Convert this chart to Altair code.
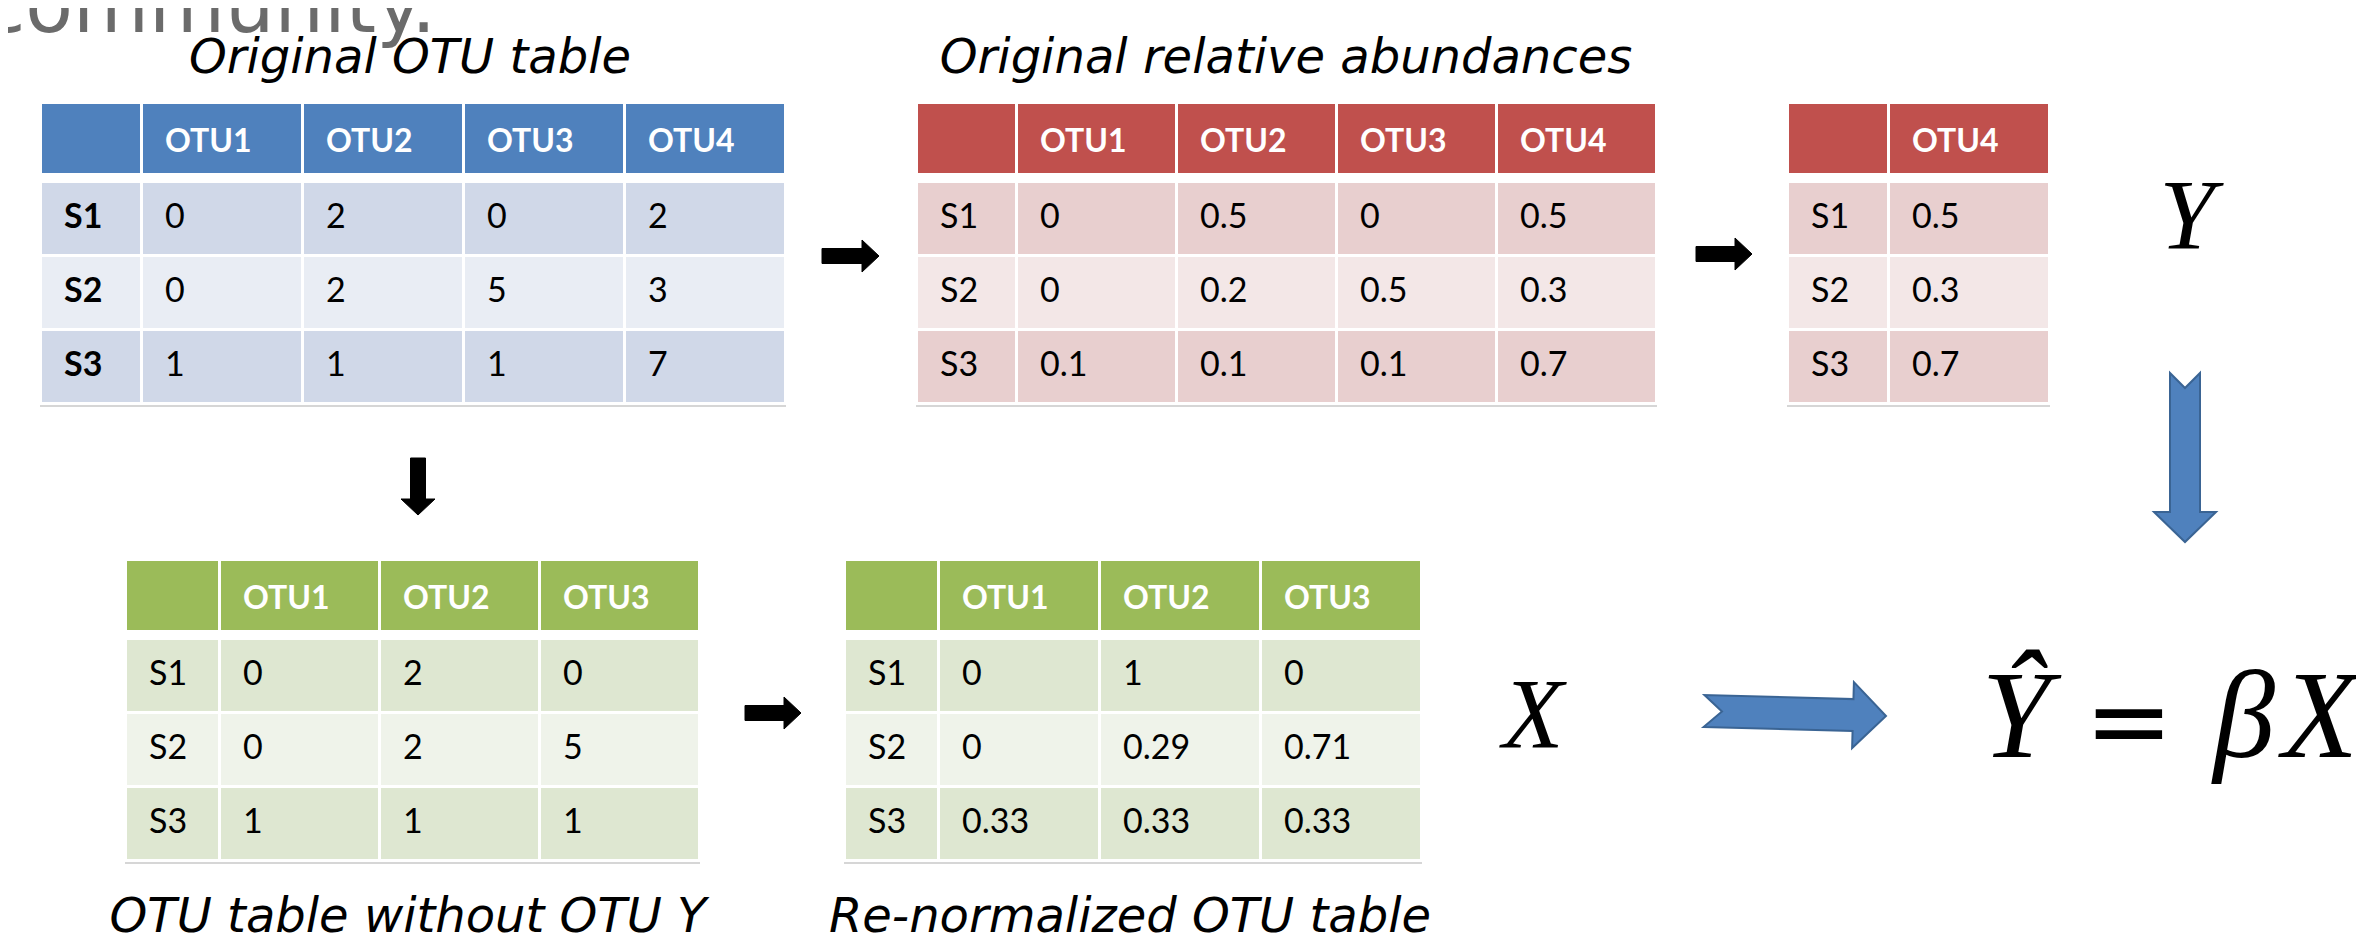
import math
import altair as alt
import pandas as pd

# ------------------------------------------------------------------ data
samples = ["S1", "S2", "S3"]
otu_all = ["OTU1", "OTU2", "OTU3", "OTU4"]
otu_y = ["OTU4"]
otu_x = ["OTU1", "OTU2", "OTU3"]

counts = [["0", "2", "0", "2"], ["0", "2", "5", "3"], ["1", "1", "1", "7"]]
rel_abund = [["0", "0.5", "0", "0.5"], ["0", "0.2", "0.5", "0.3"], ["0.1", "0.1", "0.1", "0.7"]]
y_abund = [["0.5"], ["0.3"], ["0.7"]]
x_counts = [["0", "2", "0"], ["0", "2", "5"], ["1", "1", "1"]]
x_renorm = [["0", "1", "0"], ["0", "0.29", "0.71"], ["0.33", "0.33", "0.33"]]

table_titles = ["Original OTU table", "Original relative abundances",
                "OTU table without OTU Y", "Re-normalized OTU table"]
heading_text = "community."
symbol_y = "Y"
symbol_x = "X"
equation_parts = ["Ŷ", "=", "β", "X"]

# ------------------------------------------------------------------ layout / style
W, H, OFF = 2348, 931, 8
BLUE = {"head": "#4F81BD", "band1": "#D0D8E8", "band2": "#E9EDF4"}
RED = {"head": "#C0504D", "band1": "#E8CFCF", "band2": "#F3E7E7"}
GREEN = {"head": "#9BBB59", "band1": "#DEE7D1", "band2": "#EFF3EA"}

tables = [
    dict(cols=otu_all, vals=counts, theme=BLUE, left=42, top=104, label_w=98, col_w=158, bold_labels=True),
    dict(cols=otu_all, vals=rel_abund, theme=RED, left=918, top=104, label_w=97, col_w=157, bold_labels=False),
    dict(cols=otu_y, vals=y_abund, theme=RED, left=1789, top=104, label_w=98, col_w=158, bold_labels=False),
    dict(cols=otu_x, vals=x_counts, theme=GREEN, left=127, top=561, label_w=91, col_w=157, bold_labels=False),
    dict(cols=otu_x, vals=x_renorm, theme=GREEN, left=846, top=561, label_w=91, col_w=158, bold_labels=False),
]
GAP, HEAD_H, HEAD_GAP, ROW_H, ROW_GAP, PAD = 3, 69, 10, 71, 3, 22

title_pos = [(410, 73), (1286, 73), (408, 932), (1130, 932)]

cells, rules, txt_reg, txt_bold, txt_head = [], [], [], [], []
for t in tables:
    ncol = len(t["cols"])
    lefts = [t["left"]] + [t["left"] + t["label_w"] + GAP + i * (t["col_w"] + GAP) for i in range(ncol)]
    widths = [t["label_w"]] + [t["col_w"]] * ncol
    right = lefts[-1] + widths[-1]
    top = t["top"]
    for j in range(ncol + 1):
        cells.append(dict(x=lefts[j], x2=lefts[j] + widths[j], y=top, y2=top + HEAD_H, fill=t["theme"]["head"]))
        if j > 0:
            txt_head.append(dict(x=lefts[j] + PAD, y=top + 48, text=t["cols"][j - 1]))
    for r, s in enumerate(samples):
        ry = top + HEAD_H + HEAD_GAP + r * (ROW_H + ROW_GAP)
        band = t["theme"]["band1"] if r % 2 == 0 else t["theme"]["band2"]
        for j in range(ncol + 1):
            cells.append(dict(x=lefts[j], x2=lefts[j] + widths[j], y=ry, y2=ry + ROW_H, fill=band))
        lab = dict(x=lefts[0] + PAD, y=ry + 45, text=s)
        (txt_bold if t["bold_labels"] else txt_reg).append(lab)
        for j in range(ncol):
            txt_reg.append(dict(x=lefts[j + 1] + PAD, y=ry + 45, text=t["vals"][r][j]))
    bottom = top + HEAD_H + HEAD_GAP + 3 * ROW_H + 2 * ROW_GAP
    rules.append(dict(x=t["left"] - 2, x2=right + 2, y=bottom + 4))

titles_df = pd.DataFrame([dict(x=p[0], y=p[1], text=s) for s, p in zip(table_titles, title_pos)])

sym_df = pd.DataFrame([
    dict(x=2187, y=248, text=symbol_y, fs=100),
    dict(x=1533, y=747, text=symbol_x, fs=100),
    dict(x=2016, y=757, text=equation_parts[0], fs=124),
    dict(x=2244, y=757, text=equation_parts[2], fs=124),
    dict(x=2320, y=757, text=equation_parts[3], fs=124),
])
eq_df = pd.DataFrame([dict(x=2129, y=757, text=equation_parts[1])])
head_df = pd.DataFrame([dict(x=436, y=32, text=heading_text)])


def arrow(name, tail, tip, sh, hh, hl, notch=0.0):
    dx, dy = tip[0] - tail[0], tip[1] - tail[1]
    L = math.hypot(dx, dy)
    ux, uy = dx / L, dy / L
    nx, ny = -uy, ux
    bx, by = tip[0] - hl * ux, tip[1] - hl * uy
    pts = [
        (tail[0] + nx * sh, tail[1] + ny * sh),
        (bx + nx * sh, by + ny * sh),
        (bx + nx * hh, by + ny * hh),
        tip,
        (bx - nx * hh, by - ny * hh),
        (bx - nx * sh, by - ny * sh),
        (tail[0] - nx * sh, tail[1] - ny * sh),
        (tail[0] + ux * notch, tail[1] + uy * notch),
    ]
    return [dict(id=name, i=k, x=p[0], y=p[1]) for k, p in enumerate(pts)]


black_arrows = pd.DataFrame(
    arrow("a1", (822, 256), (879, 256), 7.5, 16, 17)
    + arrow("a2", (1696, 254), (1752, 254), 7.5, 16, 17)
    + arrow("a3", (745, 713), (801, 713), 7.5, 16, 17)
    + arrow("a4", (418, 458), (418, 515), 7.5, 17, 16)
)
blue_arrows = pd.DataFrame(
    arrow("b1", (2185, 373), (2185, 542), 15, 31, 30, 15)
    + arrow("b2", (1704, 711), (1886, 716), 16, 33, 33, 18)
)

# ------------------------------------------------------------------ chart
xs = alt.Scale(domain=[OFF, OFF + W], range=[0, W], nice=False, zero=False)
ys = alt.Scale(domain=[OFF, OFF + H], range=[0, H], nice=False, zero=False)
X = lambda f="x": alt.X(f"{f}:Q", scale=xs, axis=None)
Y = lambda f="y": alt.Y(f"{f}:Q", scale=ys, axis=None)

rect_layer = alt.Chart(pd.DataFrame(cells)).mark_rect().encode(
    x=X(), x2="x2:Q", y=Y(), y2="y2:Q", color=alt.Color("fill:N", scale=None)
)
rule_layer = alt.Chart(pd.DataFrame(rules)).mark_rule(color="#D6D6D6", strokeWidth=2).encode(
    x=X(), x2="x2:Q", y=Y()
)
TBL_FONT = "Lato"
reg_layer = alt.Chart(pd.DataFrame(txt_reg)).mark_text(
    font=TBL_FONT, fontSize=34, align="left", baseline="alphabetic", color="black"
).encode(x=X(), y=Y(), text="text:N")
bold_layer = alt.Chart(pd.DataFrame(txt_bold)).mark_text(
    font=TBL_FONT, fontSize=34, fontWeight="bold", align="left", baseline="alphabetic", color="black"
).encode(x=X(), y=Y(), text="text:N")
headtxt_layer = alt.Chart(pd.DataFrame(txt_head)).mark_text(
    font=TBL_FONT, fontSize=32, fontWeight="bold", align="left", baseline="alphabetic", color="white"
).encode(x=X(), y=Y(), text="text:N")
title_layer = alt.Chart(titles_df).mark_text(
    font="DejaVu Sans", fontStyle="italic", fontSize=48, align="center", baseline="alphabetic", color="black"
).encode(x=X(), y=Y(), text="text:N")
heading_layer = alt.Chart(head_df).mark_text(
    font="DejaVu Sans", fontSize=78, align="right", baseline="alphabetic", color="#6B6B6B"
).encode(x=X(), y=Y(), text="text:N")
sym_layer = alt.Chart(sym_df).mark_text(
    font="Liberation Serif", fontStyle="italic", align="center", baseline="alphabetic", color="black"
).encode(x=X(), y=Y(), text="text:N", size=alt.Size("fs:Q", scale=None))
eq_layer = alt.Chart(eq_df).mark_text(
    font="DejaVu Sans", fontSize=106, align="center", baseline="alphabetic", color="black"
).encode(x=X(), y=Y(), text="text:N")
black_layer = alt.Chart(black_arrows).mark_line(
    interpolate="linear-closed", fill="black", stroke="black", strokeWidth=1
).encode(x=X(), y=Y(), detail="id:N", order="i:Q")
blue_layer = alt.Chart(blue_arrows).mark_line(
    interpolate="linear-closed", fill="#4F81BD", stroke="#3A6494", strokeWidth=2
).encode(x=X(), y=Y(), detail="id:N", order="i:Q")

chart = alt.layer(
    rect_layer, rule_layer, reg_layer, bold_layer, headtxt_layer, title_layer,
    heading_layer, sym_layer, eq_layer, black_layer, blue_layer,
).properties(
    width=W, height=H, padding=0, autosize=alt.AutoSizeParams(type="none"), background="white"
).configure_view(strokeWidth=0)

chart.save("out.html", embed_options={"renderer": "svg", "actions": False})
